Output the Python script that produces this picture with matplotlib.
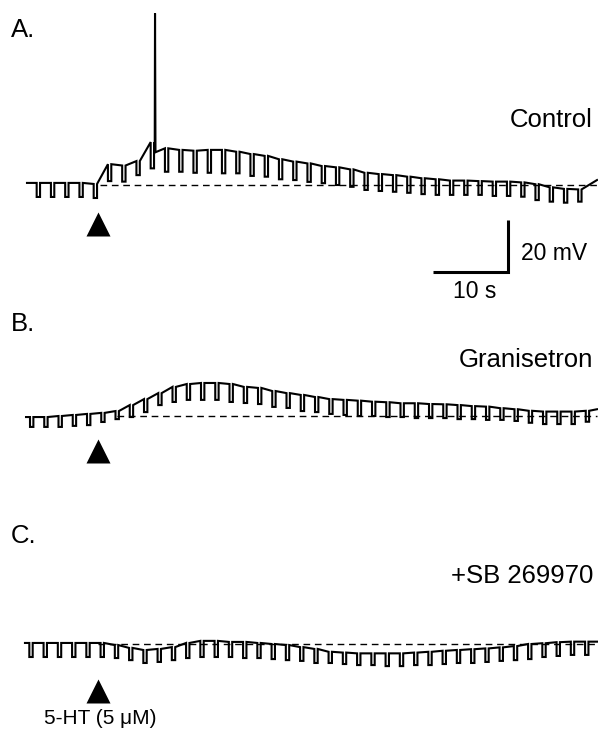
"""Three current-clamp traces: 5-HT response in control, granisetron, +SB 269970."""
import matplotlib

matplotlib.use("Agg")
import matplotlib.pyplot as plt  # noqa: E402

plt.rcParams["font.family"] = ["Liberation Sans", "DejaVu Sans"]

W, H = 598, 732
PX_PER_S = 7.5     # 10 s scale bar ~75 px
PX_PER_MV = 2.6    # 20 mV scale bar ~52 px
PERIOD = 1.9       # s between hyperpolarizing current pulses
PULSE_W = 0.45     # s
T_END = 76.0
T_DRUG = 9.5       # 5-HT application (arrowhead)

# membrane potential (mV, relative to the dashed pre-drug baseline)
# *_top: level just before each pulse (+ level at end of trace)
# *_bot: level at the bottom of each pulse
a_first = 1.29
a_top = [0.8, 0.8, 0.8, 0.8, 0.4, 8.0, 7.5, 9.2, 16.5, 14.1,
         13.5, 13.2, 13.5, 13.5, 12.8, 11.9, 11.2, 9.9, 9.0, 8.3,
         7.3, 6.8, 6.0, 4.7, 4.2, 3.8, 3.2, 2.6, 2.2, 1.7,
         1.7, 1.5, 1.3, 1.3, 1.0, 0.3, -0.9, -1.5, -1.7, 1.9]
a_bot = [-4.6, -4.6, -4.6, -4.6, -5.0, 1.5, 1.3, 3.8, 6.4, 5.1,
         5.1, 4.7, 4.7, 4.5, 4.5, 3.5, 3.2, 2.2, 1.9, 1.2,
         0.7, 0.0, -0.7, -1.9, -2.3, -2.6, -3.0, -3.5, -3.8, -3.8,
         -3.8, -3.8, -4.2, -4.2, -4.5, -5.8, -6.4, -6.8, -6.4]
a_spike_t, a_spike_mv = 17.07, 66.0

b_first = 0.4
b_top = [-0.4, -0.4, 0.0, 0.4, 0.8, 1.2, 1.9, 4.2, 6.5, 8.8,
         11.2, 12.3, 12.7, 12.7, 12.3, 11.2, 10.8, 9.6, 8.8, 8.1,
         7.3, 6.5, 6.2, 5.9, 5.5, 5.3, 4.9, 4.9, 4.6, 4.5,
         4.2, 3.8, 3.6, 3.0, 2.6, 2.0, 1.7, 1.7, 1.7, 2.0, 2.6]
b_bot = [-4.2, -4.2, -4.2, -3.8, -3.5, -2.3, -1.2, -0.4, 1.5, 4.2,
         5.4, 6.2, 6.2, 6.2, 5.4, 5.0, 4.6, 3.5, 3.1, 1.9,
         1.5, 0.8, 0.4, 0.0, 0.0, -0.4, -0.4, -0.8, -0.8, -0.8,
         -1.2, -1.2, -1.5, -1.5, -1.9, -2.6, -3.1, -3.1, -3.1, -2.2]

c_first = 0.31
c_top = [0.4, 0.4, 0.4, 0.4, 0.4, 0.4, -0.4, -1.5, -2.3, -1.9,
         -1.2, 0.4, 1.2, 1.2, 0.8, 0.8, 0.4, 0.0, -0.4, -1.2,
         -1.9, -3.0, -3.3, -3.6, -3.6, -3.6, -3.6, -3.3, -3.0, -2.6,
         -2.3, -2.0, -1.7, -1.3, -0.8, 0.0, 0.3, 0.7, 0.9, 0.9, 0.9]
c_bot = [-5.0, -5.0, -5.0, -5.0, -5.0, -5.0, -5.4, -6.2, -7.3, -6.9,
         -6.2, -5.4, -5.0, -5.0, -5.0, -5.4, -5.4, -5.8, -6.2, -6.5,
         -7.3, -7.3, -7.7, -8.1, -8.1, -8.5, -8.5, -8.1, -8.1, -7.7,
         -7.3, -7.3, -6.9, -6.5, -6.2, -5.8, -5.0, -4.6, -4.2, -4.2]

labels = ["A.", "B.", "C."]
conditions = ["Control", "Granisetron", "+SB 269970"]
dash_start = [9.7, 12.0, 9.5]


def build_trace(t_start, first, top, bot, spike=None):
    t, v = [t_start], [top[0]]
    for k, b in enumerate(bot):
        d = first + k * PERIOD
        t += [d, d, d + PULSE_W, d + PULSE_W]
        v += [top[k], b, b, top[k]]
        if spike and d < spike[0] < d + PERIOD:
            t += [spike[0] - 0.04, spike[0], spike[0] + 0.06]
            v += [top[k + 1], spike[1], top[k + 1] - 1.5]
    t.append(T_END)
    v.append(top[-1])
    return t, v


traces = [
    build_trace(0.0, a_first, a_top, a_bot, (a_spike_t, a_spike_mv)),
    build_trace(-0.13, b_first, b_top, b_bot),
    build_trace(-0.27, c_first, c_top, c_bot),
]

# layout in pixels: (top, bottom, dashed-baseline y)
panels_px = [(0, 305, 185), (305, 515, 416), (515, 732, 644)]
arrow_px = [224.3, 450.7, 690.7]
x0_px = 27

fig = plt.figure(figsize=(W / 100, H / 100), dpi=100)
axes = []
for (top_px, bot_px, dash_px), (t, v), ds, arr in zip(
        panels_px, traces, dash_start, arrow_px):
    ax = fig.add_axes([0, 1 - bot_px / H, 1, (bot_px - top_px) / H])
    ax.set_xlim(-x0_px / PX_PER_S, (W - x0_px) / PX_PER_S)
    ax.set_ylim((dash_px - bot_px) / PX_PER_MV, (dash_px - top_px) / PX_PER_MV)
    ax.axis("off")
    ax.plot(t, v, color="black", lw=1.5, solid_joinstyle="miter")
    ax.plot([ds, T_END], [0, 0], color="black", lw=1.0, ls=(0, (4.8, 3.4)))
    ax.plot([T_DRUG], [(dash_px - arr) / PX_PER_MV], marker="^",
            ms=17.5, color="black", mec="none", clip_on=False)
    axes.append(ax)

# scale bar in panel A: 10 s x 20 mV
ax = axes[0]
corner_t = (508 - x0_px) / PX_PER_S
corner_v = (185 - 272) / PX_PER_MV
ax.plot([corner_t - 10, corner_t, corner_t], [corner_v, corner_v, corner_v + 20],
        color="black", lw=2.2, solid_joinstyle="miter", solid_capstyle="butt",
        clip_on=False)

fs = 18.5


def ftext(x, y, s, **kw):
    fig.text(x / W, 1 - y / H, s, fontsize=kw.pop("fontsize", fs), **kw)


for lab, y in zip(labels, [37, 331, 543]):
    ftext(11, y, lab, va="baseline", ha="left")
for cond, y in zip(conditions, [127, 367, 583]):
    ftext(593, y, cond, va="baseline", ha="right")
ftext(521, 253, "20 mV", va="center", ha="left", fontsize=16.5)
ftext(475, 292, "10 s", va="center", ha="center", fontsize=16.5)
ftext(100, 718, "5-HT (5 \u03bcM)", va="center", ha="center", fontsize=15)

fig.savefig("out.png", dpi=100)
